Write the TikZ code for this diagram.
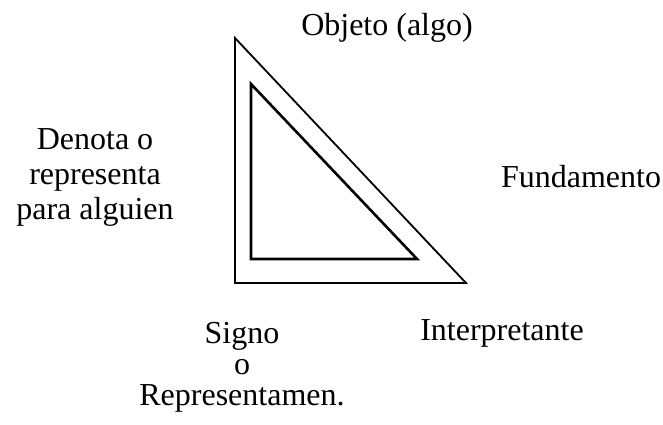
\documentclass[tikz,border=0pt]{standalone}
\usepackage{fontspec}
\setmainfont{Liberation Serif}
\usepackage{tikz}
\usetikzlibrary{positioning}
\tikzset{
  lbl/.style={align=center,inner sep=0pt,anchor=base,font=\fontsize{32}{35}\selectfont},
  outer/.style={draw=black,line width=1.8pt,line join=miter},
  inner/.style={draw=black,line width=2.6pt,line join=miter}
}
\begin{document}
\begin{tikzpicture}[x=1pt,y=-1pt]
  \useasboundingbox (0,0) rectangle (663,424);
  \coordinate (ot) at (235,38);
  \coordinate (ol) at (235,283);
  \coordinate (or) at (466,283);
  \coordinate (it) at (251,84);
  \coordinate (il) at (251,259);
  \coordinate (ir) at (417,259);
  \draw[outer] (ot) -- (ol) -- (or) -- cycle;
  \draw[inner] (it) -- (il) -- (ir) -- cycle;
  % base anchor of a multi-line node sits on its last line
  \node[lbl] (obj) at (387,35) {Objeto (algo)};
  \node[lbl] (den) at (95,219) {Denota o\\representa\\para alguien};
  \node[lbl] (fun) at (581,187) {Fundamento};
  \node[lbl,font=\fontsize{32}{31}\selectfont] (sig) at (242,405) {Signo\\o\\Representamen.};
  \node[lbl] (int) at (502,340) {Interpretante};
\end{tikzpicture}
\end{document}
